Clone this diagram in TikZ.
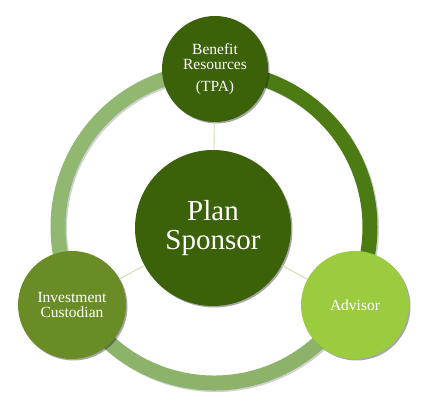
\documentclass[tikz,border=0pt]{standalone}
\usepackage{fontspec}
\setmainfont{Liberation Serif}
\usetikzlibrary{shadows}
\definecolor{darkg}{HTML}{3B6109}
\definecolor{midg}{HTML}{6A8C26}
\definecolor{lightg}{HTML}{9BCB3F}
\definecolor{ringL}{HTML}{90B870}
\definecolor{ringR}{HTML}{4B7B12}
\definecolor{ringB}{HTML}{8DB36B}
\definecolor{linkg}{HTML}{C7E0A5}
\tikzset{
  x=1pt,y=1pt,
  bubble/.style={circle, inner sep=0pt, text=white, align=center,
    drop shadow={shadow xshift=1.5pt, shadow yshift=-1.5pt, opacity=0.35, fill=black}},
  small/.style={font=\fontsize{15.5}{15}\selectfont},
  big/.style={font=\fontsize{29}{29}\selectfont},
  ringseg/.style={line width=15pt},
  ringshadow/.style={line width=15pt, draw=black, opacity=0.18},
  link/.style={draw=linkg, line width=0.9pt}
}
\begin{document}
\begin{tikzpicture}
\fill[white] (0,0) rectangle (431,406);
\useasboundingbox (0,0) rectangle (431,406);
% ring shadow
\draw[ringshadow] ([shift={(1.5,-1.5)}]214,179) ++(90:156) arc[start angle=90, end angle=-30, radius=156];
\draw[ringshadow] ([shift={(1.5,-1.5)}]214,179) ++(90:156) arc[start angle=90, end angle=210, radius=156];
\draw[ringshadow] ([shift={(1.5,-1.5)}]214,179) ++(210:156) arc[start angle=210, end angle=330, radius=156];
% ring
\draw[ringseg, draw=ringL] (214,179) ++(90:156) arc[start angle=90, end angle=210, radius=156];
\draw[ringseg, draw=ringB] (214,179) ++(210:156) arc[start angle=210, end angle=330, radius=156];
\draw[ringseg, draw=ringR] (214,179) ++(90:156) arc[start angle=90, end angle=-30, radius=156];
% nodes
\node[bubble, fill=darkg, minimum size=156pt, big] (ps) at (213,178) {Plan\\Sponsor};
\node[bubble, fill=darkg, minimum size=106pt, small] (br) at (215,337) {Benefit\\Resources\\[7pt](TPA)};
\node[bubble, fill=midg, minimum size=108pt, small] (ic) at (72,101) {Investment\\Custodian};
\node[bubble, fill=lightg, minimum size=108pt, small] (ad) at (355,101) {Advisor};
% connectors
\draw[link] (ps) -- (br);
\draw[link] (ps) -- (ic);
\draw[link] (ps) -- (ad);
\end{tikzpicture}
\end{document}
